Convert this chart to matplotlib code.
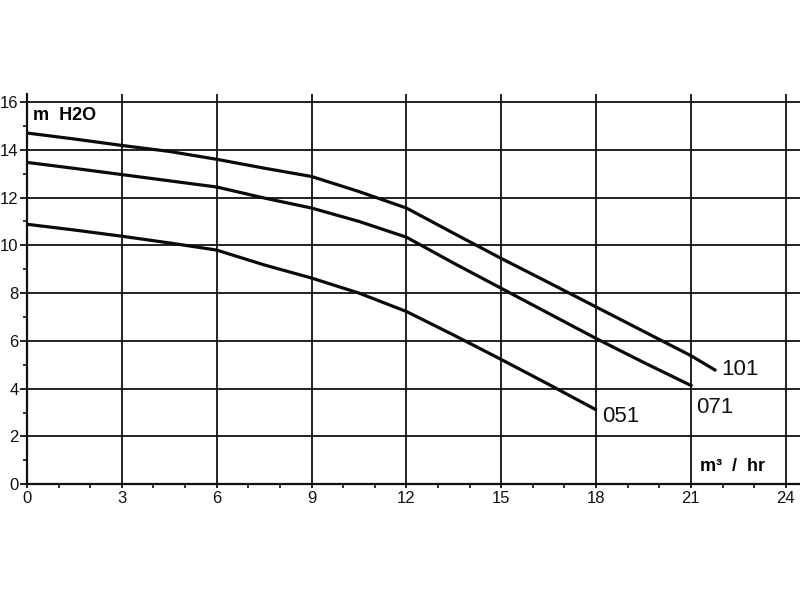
import matplotlib
matplotlib.use("Agg")
import matplotlib.pyplot as plt
from matplotlib.ticker import MultipleLocator

plt.rcParams['font.family'] = ['Liberation Sans', 'DejaVu Sans']

# Flow (m3/hr) and head (m H2O)
x_101 = [0, 1.5, 3, 4.5, 6, 7.5, 9, 10.5, 12, 13.5, 15, 16.5, 18, 19.5, 21, 21.8]
y_101 = [14.7, 14.45, 14.18, 13.93, 13.6, 13.23, 12.88, 12.25, 11.56, 10.5, 9.45, 8.44, 7.42, 6.4, 5.38, 4.75]

x_071 = [0, 1.5, 3, 4.5, 6, 7.5, 9, 10.5, 12, 13.5, 15, 16.5, 18, 19.5, 21.05]
y_071 = [13.47, 13.22, 12.96, 12.7, 12.44, 11.98, 11.56, 11.0, 10.34, 9.25, 8.2, 7.15, 6.1, 5.1, 4.1]

x_051 = [0, 1.5, 3, 4.5, 6, 7.5, 9, 10.5, 12, 13.5, 15, 16.5, 18.02]
y_051 = [10.88, 10.64, 10.38, 10.1, 9.8, 9.18, 8.63, 8.0, 7.23, 6.24, 5.22, 4.18, 3.1]

series_labels = ["101", "071", "051"]
x_ticks = [0, 3, 6, 9, 12, 15, 18, 21, 24]
y_ticks = [0, 2, 4, 6, 8, 10, 12, 14, 16]

fig = plt.figure(figsize=(8, 6), dpi=100)
ax = fig.add_axes([0.03375, 0.193, 0.96625, 0.651])
ax.set_xlim(0, 24.45)
ax.set_ylim(0, 16.35)

ax.set_xticks(x_ticks)
ax.set_yticks(y_ticks)
ax.xaxis.set_minor_locator(MultipleLocator(1))
ax.yaxis.set_minor_locator(MultipleLocator(1))
ax.grid(True, which='major', color='#111111', linewidth=1.3)
ax.set_axisbelow(True)

for s in ['top', 'right']:
    ax.spines[s].set_visible(False)
for s in ['left', 'bottom']:
    ax.spines[s].set_linewidth(1.6)
    ax.spines[s].set_color('#111111')

ax.tick_params(axis='y', which='major', direction='out', length=5, width=1.3,
               labelsize=12, pad=1, colors='#111111')
ax.tick_params(axis='y', which='minor', direction='out', length=3, width=1.2, colors='#111111')
ax.tick_params(axis='x', which='major', direction='out', length=3, width=1.3,
               labelsize=12, pad=2, colors='#111111')
ax.tick_params(axis='x', which='minor', direction='out', length=3, width=1.2, colors='#111111')

lw = 2.3
ax.plot(x_101, y_101, color='#0a0a0a', linewidth=lw, solid_capstyle='butt', solid_joinstyle='round')
ax.plot(x_071, y_071, color='#0a0a0a', linewidth=lw, solid_capstyle='butt', solid_joinstyle='round')
ax.plot(x_051, y_051, color='#0a0a0a', linewidth=lw, solid_capstyle='butt', solid_joinstyle='round')

lab_font = dict(fontsize=16, color='#111111', family=['Liberation Sans Narrow', 'Liberation Sans'])
ax.text(21.95, 4.8, series_labels[0], ha='left', va='center', **lab_font)
ax.text(21.15, 3.2, series_labels[1], ha='left', va='center', **lab_font)
ax.text(18.2, 2.85, series_labels[2], ha='left', va='center', **lab_font)

ax.text(0.18, 15.45, "m  H2O", fontsize=13, fontweight='bold', ha='left', va='center')
ax.text(21.3, 0.72, "m³  /  hr", fontsize=13, fontweight='bold', ha='left', va='center')

fig.savefig("out.png", dpi=100)
